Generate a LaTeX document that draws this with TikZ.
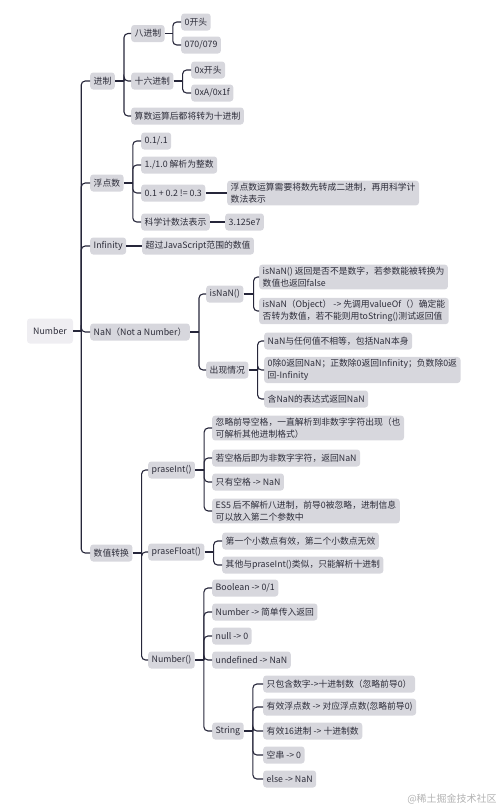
\documentclass[tikz,border=0pt]{standalone}
\usepackage{fontspec}
\setmainfont{Noto Sans CJK SC}
\usepackage{tikz}
\usetikzlibrary{arrows.meta,positioning}
\definecolor{boxgray}{RGB}{215,215,221}
\definecolor{rootgray}{RGB}{239,238,242}
\definecolor{linkink}{RGB}{38,38,58}
\definecolor{textink}{RGB}{45,45,58}
\begin{document}
\begin{tikzpicture}[x=1pt,y=-1pt,
topic/.style={fill=boxgray,rounded corners=3pt,anchor=west,minimum height=17pt,inner xsep=3.5pt,inner ysep=2.5pt,align=left,text=textink,font=\fontsize{8.8}{11.5}\selectfont},
root topic/.style={topic,fill=rootgray,anchor=center,minimum width=46pt,minimum height=25pt},
link/.style={draw=linkink,line width=1.1pt,rounded corners=4pt}]
\useasboundingbox (0,0) rectangle (503,809);
\node[root topic] (num) at (50,331) {Number};
\node[topic] (jz) at (90,81) {进制};
\node[topic] (bjz) at (131,33.5) {八进制};
\node[topic] (o1) at (181,22) {0开头};
\node[topic] (o2) at (181,45) {070/079};
\node[topic] (sljz) at (131,81) {十六进制};
\node[topic] (h1) at (191,70) {0x开头};
\node[topic] (h2) at (191,93) {0xA/0x1f};
\node[topic] (jz3) at (131,116) {算数运算后都将转为十进制};
\node[topic] (fds) at (90,183) {浮点数};
\node[topic] (f1) at (141,141) {0.1/.1};
\node[topic] (f2) at (141,165) {1./1.0 解析为整数};
\node[topic] (f3) at (141,193) {0.1 + 0.2 != 0.3};
\node[topic] (f3a) at (227,193) {浮点数运算需要将数先转成二进制，再用科学计\\数法表示};
\node[topic] (f4) at (141,222) {科学计数法表示};
\node[topic] (f4a) at (225,222) {3.125e7};
\node[topic] (inf) at (90,246) {Infinity};
\node[topic] (infa) at (142,246) {超过JavaScript范围的数值};
\node[topic] (nan) at (90,332) {NaN（Not a Number）};
\node[topic] (isnan) at (206,294) {isNaN()};
\node[topic] (isn1) at (259,277) {isNaN() 返回是否不是数字，若参数能被转换为\\数值也返回false};
\node[topic] (isn2) at (259,311) {isNaN（Object） -> 先调用valueOf（）确定能\\否转为数值，若不能则用toString()测试返回值};
\node[topic] (cxqk) at (206,370) {出现情况};
\node[topic] (cx1) at (264,341) {NaN与任何值不相等，包括NaN本身};
\node[topic] (cx2) at (264,370) {0除0返回NaN；正数除0返回Infinity；负数除0返\\回-Infinity};
\node[topic] (cx3) at (264,399) {含NaN的表达式返回NaN};
\node[topic] (szzh) at (90,553) {数值转换};
\node[topic] (pint) at (148,470) {praseInt()};
\node[topic] (pi1) at (212,428) {忽略前导空格，一直解析到非数字字符出现（也\\可解析其他进制格式）};
\node[topic] (pi2) at (212,458) {若空格后即为非数字字符，返回NaN};
\node[topic] (pi3) at (212,482) {只有空格 -> NaN};
\node[topic] (pi4) at (212,511) {ES5 后不解析八进制，前导0被忽略，进制信息\\可以放入第二个参数中};
\node[topic] (pflt) at (148,552) {praseFloat()};
\node[topic] (pf1) at (222,541) {第一个小数点有效，第二个小数点无效};
\node[topic] (pf2) at (222,565) {其他与praseInt()类似，只能解析十进制};
\node[topic] (numf) at (148,660) {Number()};
\node[topic] (n1) at (212,588) {Boolean -> 0/1};
\node[topic] (n2) at (212,612) {Number -> 简单传入返回};
\node[topic] (n3) at (212,636) {null -> 0};
\node[topic] (n4) at (212,660) {undefined -> NaN};
\node[topic] (str) at (212,731) {String};
\node[topic] (s1) at (263,684) {只包含数字->十进制数（忽略前导0）};
\node[topic] (s2) at (263,707) {有效浮点数 -> 对应浮点数(忽略前导0)};
\node[topic] (s3) at (263,731) {有效16进制 -> 十进制数};
\node[topic] (s4) at (263,755) {空串 -> 0};
\node[topic] (s5) at (263,779) {else -> NaN};
\node[text=black!30,font=\fontsize{10}{12}\selectfont] (mark) at (452,799) {@稀土掘金技术社区};
\draw[link] (num.east) -- ++(8,0);
\foreach \c in {jz,fds,inf,nan,szzh} \draw[link] (num.east) ++(8,0) |- (\c.west);
\draw[link] (jz.east) -- ++(9,0);
\foreach \c in {bjz,sljz,jz3} \draw[link] (jz.east) ++(9,0) |- (\c.west);
\draw[link] (bjz.east) -- ++(8,0);
\foreach \c in {o1,o2} \draw[link] (bjz.east) ++(8,0) |- (\c.west);
\draw[link] (sljz.east) -- ++(9,0);
\foreach \c in {h1,h2} \draw[link] (sljz.east) ++(9,0) |- (\c.west);
\draw[link] (fds.east) -- ++(9,0);
\foreach \c in {f1,f2,f3,f4} \draw[link] (fds.east) ++(9,0) |- (\c.west);
\draw[link] (f3) -- (f3a);
\draw[link] (f4) -- (f4a);
\draw[link] (inf) -- (infa);
\draw[link] (nan.east) -- ++(9,0);
\foreach \c in {isnan,cxqk} \draw[link] (nan.east) ++(9,0) |- (\c.west);
\draw[link] (isnan.east) -- ++(10,0);
\foreach \c in {isn1,isn2} \draw[link] (isnan.east) ++(10,0) |- (\c.west);
\draw[link] (cxqk.east) -- ++(9,0);
\foreach \c in {cx1,cx2,cx3} \draw[link] (cxqk.east) ++(9,0) |- (\c.west);
\draw[link] (szzh.east) -- ++(9,0);
\foreach \c in {pint,pflt,numf} \draw[link] (szzh.east) ++(9,0) |- (\c.west);
\draw[link] (pint.east) -- ++(9,0);
\foreach \c in {pi1,pi2,pi3,pi4} \draw[link] (pint.east) ++(9,0) |- (\c.west);
\draw[link] (pflt.east) -- ++(9,0);
\foreach \c in {pf1,pf2} \draw[link] (pflt.east) ++(9,0) |- (\c.west);
\draw[link] (numf.east) -- ++(9,0);
\foreach \c in {n1,n2,n3,n4,str} \draw[link] (numf.east) ++(9,0) |- (\c.west);
\draw[link] (str.east) -- ++(9,0);
\foreach \c in {s1,s2,s3,s4,s5} \draw[link] (str.east) ++(9,0) |- (\c.west);
\end{tikzpicture}
\end{document}
